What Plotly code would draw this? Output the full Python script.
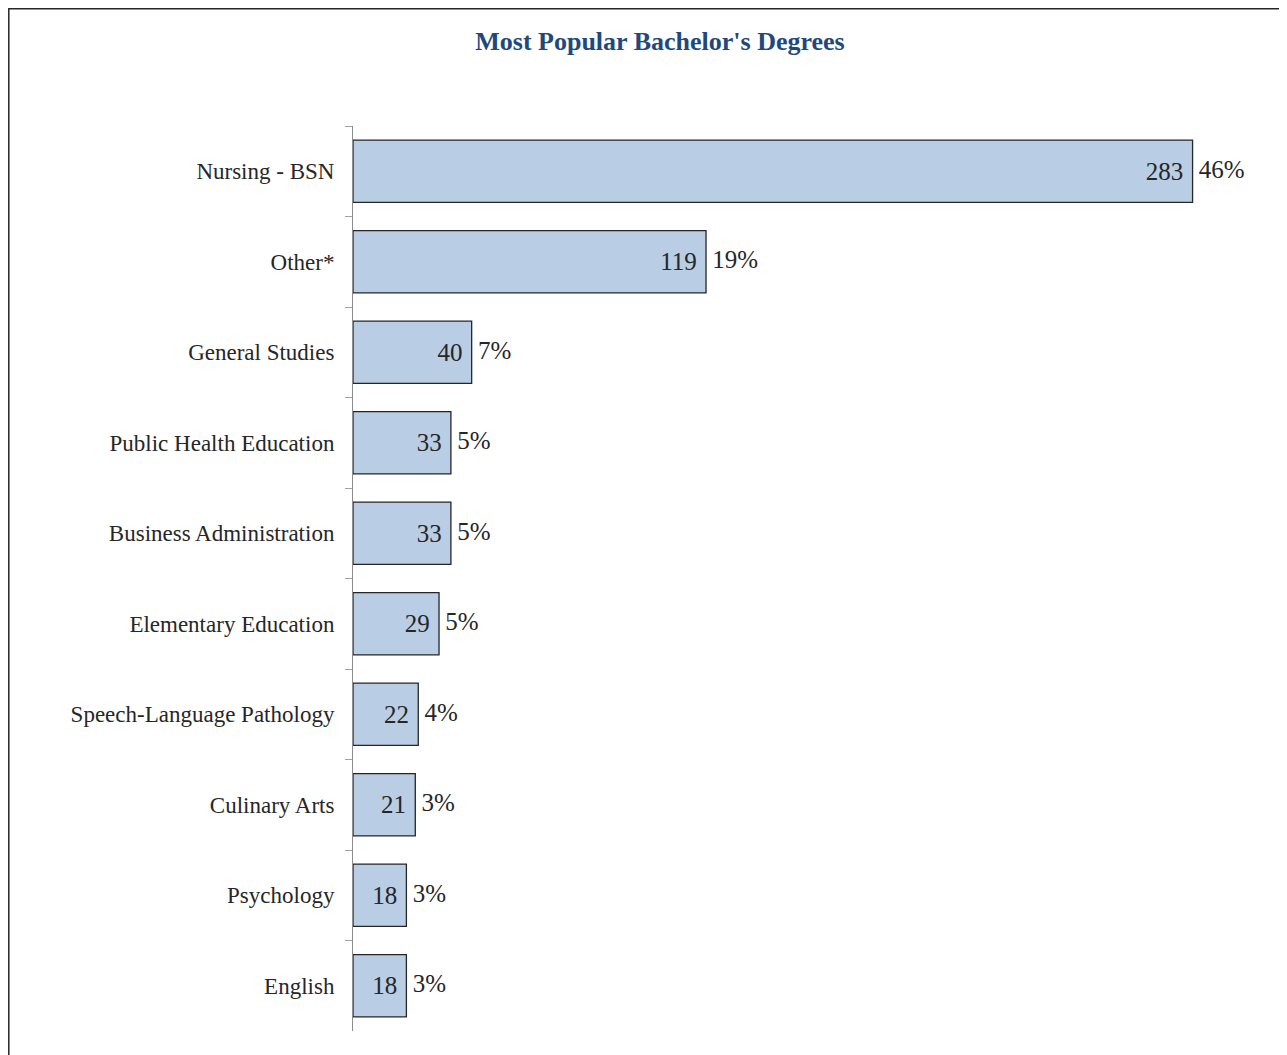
import plotly.graph_objects as go

categories = ["Nursing - BSN", "Other*", "General Studies", "Public Health Education",
              "Business Administration", "Elementary Education", "Speech-Language Pathology",
              "Culinary Arts", "Psychology", "English"]
counts = [283, 119, 40, 33, 33, 29, 22, 21, 18, 18]
percents = ["46%", "19%", "7%", "5%", "5%", "5%", "4%", "3%", "3%", "3%"]

W, H = 1287, 1055
OFF = 8  # page body margin
L, R, T, B = 353 - OFF, 52, 126 - OFF, 32
FONT = "Liberation Serif, Times New Roman, serif"

fig = go.Figure()
fig.add_trace(go.Bar(
    y=categories, x=counts, orientation="h",
    marker=dict(color="#B9CDE5", line=dict(color="#262626", width=1.3)),
    text=[str(c) + "\u00a0" for c in counts], textposition="inside", insidetextanchor="end",
    textangle=0, constraintext="none",
    insidetextfont=dict(family=FONT, size=25, color="#262626"),
    hoverinfo="skip", showlegend=False,
))
fig.add_trace(go.Scatter(
    y=categories, x=counts, mode="text",
    text=["\u00a0" + p for p in percents], textposition="middle right",
    textfont=dict(family=FONT, size=25, color="#262626"),
    cliponaxis=False, hoverinfo="skip", showlegend=False,
))

pw = W - L - R
ph = H - T - B
fig.add_shape(type="rect", xref="paper", yref="paper",
              x0=(0.8 - L) / pw, x1=(1282 - OFF - L) / pw,
              y0=-0.2, y1=1 + (T - 0.8) / ph,
              line=dict(color="#262626", width=1.5), fillcolor="rgba(0,0,0,0)", layer="below")

fig.update_layout(
    width=W, height=H,
    margin=dict(l=L, r=R, t=T, b=B),
    paper_bgcolor="white", plot_bgcolor="white",
    bargap=0.31,
    title=dict(text="<b>Most Popular Bachelor's Degrees</b>", x=(660 - OFF) / W, xanchor="center",
               xref="container", y=1 - (41 - OFF) / H, yanchor="middle",
               font=dict(family=FONT, size=26, color="#1F497D")),
    xaxis=dict(range=[0, 300], visible=False, showgrid=False, zeroline=False),
    yaxis=dict(autorange="reversed", showline=True, linecolor="#8C8C8C", linewidth=1,
               ticks="outside", tickson="boundaries", ticklen=7, tickcolor="#A0A0A0",
               tickfont=dict(family=FONT, size=23, color="#262626"),
               ticklabelstandoff=13, showgrid=False, zeroline=False),
)

fig.write_html("out.html")
